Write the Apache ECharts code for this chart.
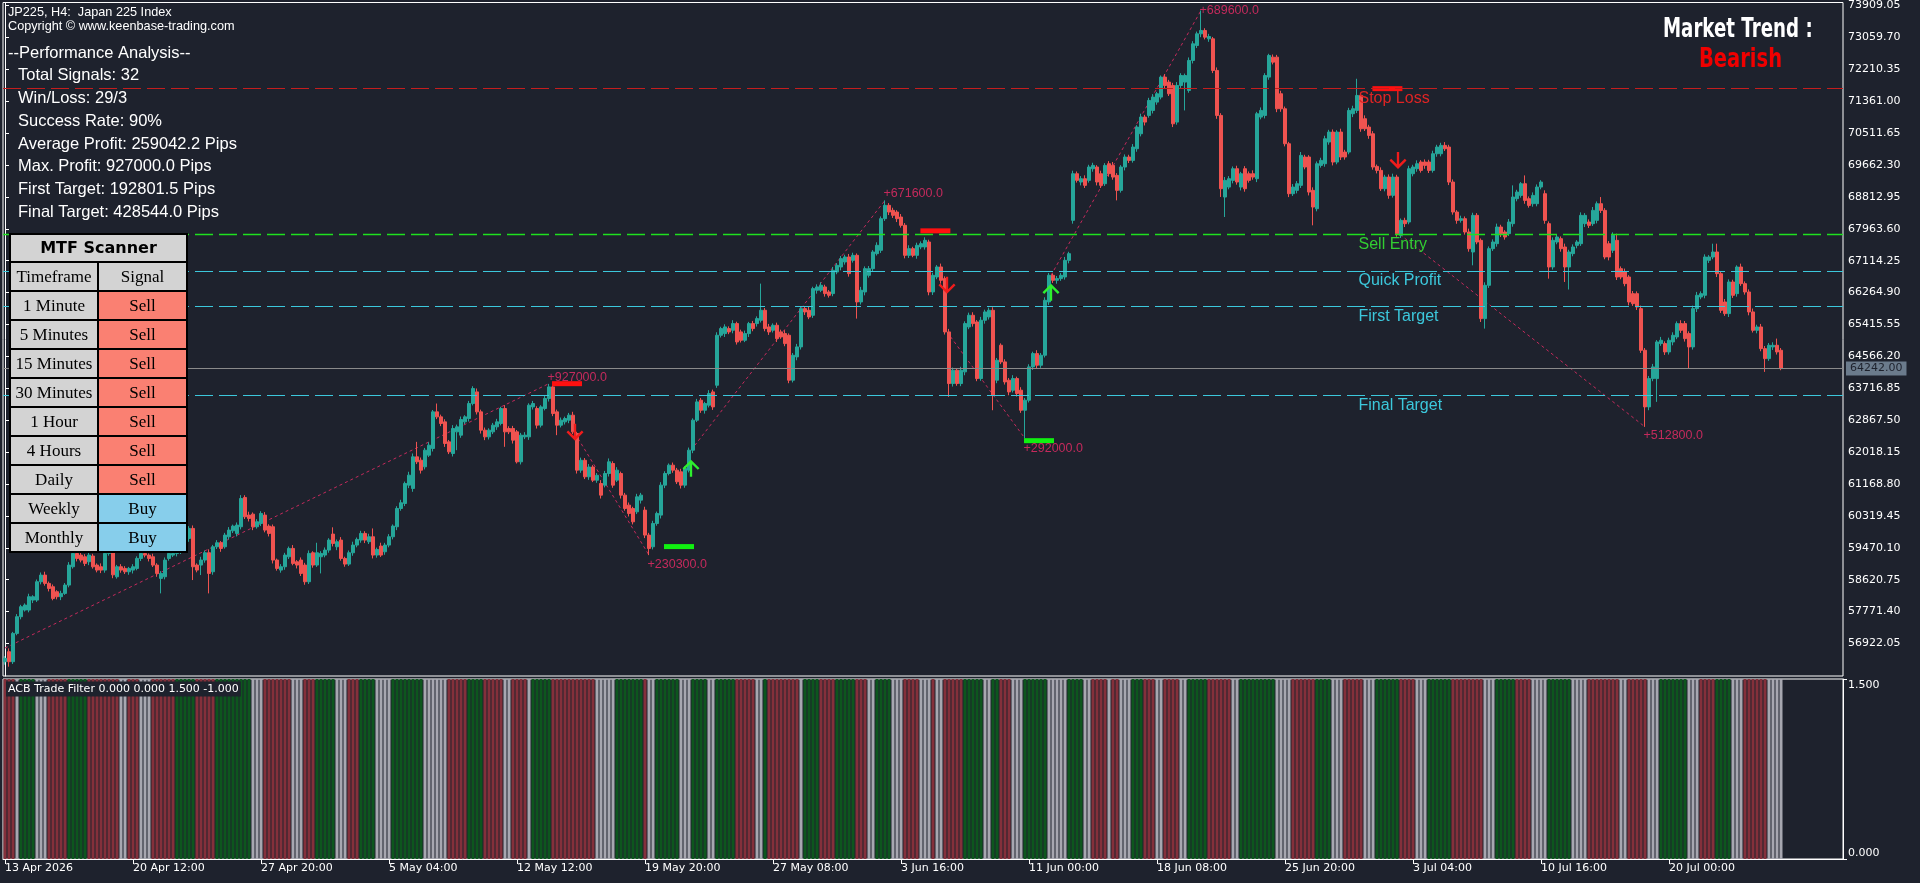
<!DOCTYPE html>
<html><head><meta charset="utf-8">
<script src="https://cdn.jsdelivr.net/npm/echarts@6/dist/echarts.min.js"></script>
<style>html,body{margin:0;padding:0;background:#1e222d;overflow:hidden}#c{width:1920px;height:883px}</style>
</head><body><div id="c"></div>
<script>
// ---------------- DATA ----------------
const opens = [
56437,56703,56437,57191,57635,57812,57812,58078,58078,58566,
58743,58522,58433,58300,58167,58256,58477,58965,59320,59275,
59231,59098,59250,59009,58965,58876,59320,59600,58699,58965,
58921,58832,58876,58921,59187,59320,59275,59231,59009,58655,
58699,59187,59275,59320,59364,59600,59719,59985,59010,59010,
59143,59338,58832,59497,59604,59497,59764,59923,59852,60030,
60810,60340,60366,60030,60118,60340,60047,60030,59143,58877,
58965,59231,59453,59098,59143,59010,58566,59338,59010,59231,
59276,59409,59835,59497,59675,59187,59036,59338,59542,59675,
59852,59631,59764,59276,59515,59364,59542,59764,60030,60517,
60650,61138,61050,61892,61803,61626,61936,62114,63089,62956,
62823,62291,61981,62557,62469,62823,62912,63311,63621,63089,
62602,62424,62557,62690,62779,63178,62646,62646,62557,61759,
62424,62424,63222,63178,62735,63178,63444,63754,63089,62735,
62823,62868,63001,62513,61537,61800,61360,61620,61270,61182,
61138,61448,61714,61271,61448,60872,60606,60517,60428,60739,
60473,59808,59497,60118,60340,61138,61448,61670,61537,61493,
61138,61537,62069,62867,63400,63133,63267,63621,63798,65129,
65173,65306,65262,65440,65218,64996,65173,65440,65440,65528,
65794,65351,65262,65395,65218,65173,65129,63932,64553,64819,
65838,65794,65661,66327,66327,66415,66282,66238,66814,66947,
67080,67213,67124,67257,66016,66282,66725,66903,67302,67391,
68233,68588,68455,68410,68277,68056,67257,67435,67257,67480,
67480,67612,66282,66681,66947,66637,65218,63843,64198,63843,
64154,65351,65661,65484,63976,65528,65617,65794,63932,64863,
64420,63932,63665,63976,63666,63133,63400,64287,64641,64331,
64597,66016,66725,66592,66637,66681,67124,68189,69430,69209,
69297,69253,69563,69608,69430,69164,69696,69652,69386,68987,
69608,69874,69785,70095,70494,70938,70982,71115,71337,71470,
72002,71869,71780,70805,71780,71869,71647,72446,72845,73155,
73244,73022,73022,72180,70982,68809,69075,69253,69563,69075,
69563,69430,69430,69297,70938,70982,72002,72534,72534,71559,
71159,70228,68898,68987,69120,69874,69874,68987,68499,69652,
69696,70273,70539,69741,70539,70007,70007,71027,71115,71514,
70894,70672,70494,69625,69519,69031,69341,68854,69341,67789,
68188,68144,69430,69563,69741,69741,69741,69519,69962,69962,
70184,70140,69208,68410,68188,68233,67878,67346,68321,67656,
65572,66459,67434,67568,68011,67878,67834,68100,68765,68853,
69164,68765,68632,68632,69075,68898,68100,66947,67612,67700,
67479,66947,67302,67523,67567,68100,68144,68100,68188,68632,
68454,67567,67390,67656,66902,66814,66680,66237,66237,65838,
64729,63222,63975,63975,64907,64907,64685,64951,65084,65439,
65439,65173,64818,65838,66148,66193,67124,67213,67346,66769,
66015,65705,66547,66237,66946,66503,66281,65750,65261,65350,
64773,64507,64818,64862,64729];
const closes = [
56526,56437,57191,57635,57901,57945,58167,58167,58566,58743,
58522,58388,58122,58167,58256,58477,59009,59320,59187,59142,
59054,59275,58965,58876,58876,59320,59600,58750,58965,58876,
58832,58921,58965,59187,59320,59275,59187,59009,58788,58788,
59142,59320,59320,59364,59600,59720,59985,58965,58877,59143,
59338,58788,59497,59604,59453,59808,59941,60047,60074,60783,
60296,60251,60030,60163,60384,59941,59852,59143,58921,58965,
59276,59453,59054,59010,58788,58566,59320,59010,59338,59320,
59409,59675,59586,59631,59187,59036,59338,59542,59693,59852,
59675,59764,59276,59426,59276,59542,59764,60047,60517,60668,
61183,61404,61892,61759,61537,62069,62202,63089,62956,62779,
62247,62025,62646,62690,62885,62956,63311,63710,63089,62602,
62424,62602,62735,62823,63178,62557,62557,62336,61759,62469,
62469,63267,63311,62735,63222,63444,63754,63045,62735,62868,
62912,63001,62557,61537,61800,61360,61620,61270,61400,60872,
61448,61759,61138,61537,60872,60517,60384,60162,60827,60872,
59808,59453,60118,60384,61138,61448,61670,61537,61227,61138,
61581,62069,62867,63355,63133,63311,63577,63222,65129,65306,
65351,65218,65440,64951,64996,65173,65440,65306,65572,65794,
65306,65218,65395,65040,65084,64907,63932,64597,64819,65838,
65750,65617,66371,66415,66460,66238,66193,66858,66991,67169,
67213,66770,67257,66016,66327,66903,66903,67346,67524,68233,
68588,68410,68322,68233,68056,67257,67435,67257,67524,67568,
67657,66282,66725,66947,66593,65218,63843,64198,63843,64198,
65440,65661,65439,63976,65528,65750,65794,63533,64464,64420,
63887,63621,63976,63577,63133,63400,64287,64641,64331,64597,
66060,66725,66592,66637,66725,67124,67302,69430,69253,69297,
69120,69608,69652,69209,69120,69652,69430,69341,68987,69608,
69874,69785,70140,70672,70938,70805,71381,71470,71559,72002,
71780,71559,70760,71780,72046,72046,72446,72889,73155,73244,
73066,73084,72180,70982,69031,69253,69297,69563,69209,69430,
69031,69253,69341,71027,71115,72046,72579,72401,71159,71159,
70228,68898,69075,69164,69918,69608,68942,68543,69696,69785,
70361,70539,69741,70539,69874,69874,71115,71160,71514,70627,
70627,70450,69608,69519,69031,69341,68854,69341,67833,68188,
68100,69563,69608,69696,69519,69652,69519,69962,70140,70184,
70095,69208,68410,68188,68233,67878,67434,68321,67612,65572,
66459,67434,67612,68011,67834,67745,68144,68809,68942,69164,
68720,68587,68853,69075,69208,68188,66947,67656,67745,67434,
66947,67346,67479,67612,68321,68321,68055,68454,68632,68454,
67213,67213,67789,66680,66680,66503,66015,65971,65882,64729,
63222,63975,64286,64951,64995,64685,64995,65128,65439,65261,
65040,64818,65838,66193,66237,67213,67213,67346,66769,65793,
65705,66547,66193,66946,66503,66281,65750,65261,65350,64773,
64507,64862,64862,64685,64242];
const wickUp = [
60,90,40,70,50,45,80,40,60,70, 90,50,60,40,70,55,80,180,60,90,
70,80,60,45,90,60,150,80,50,70, 60,40,70,55,90,60,45,80,50,60,
70,50,80,40,120,90,60,80,45,88, 60,90,50,70,45,60,80,40,70,89,
60,90,45,70,60,80,50,60,40,70, 60,50,90,45,70,60,80,40,266,60,
70,50,180,60,80,45,60,90,50,70, 60,80,221,50,90,60,70,45,60,80,
50,90,89,399,70,60,80,50,222,60, 70,50,90,60,80,45,70,62,90,60,
70,50,60,80,45,90,60,70,50,60, 80,50,70,60,45,90,80,89,60,70,
50,60,90,45,70,60,80,50,60,90, 70,90,60,80,50,60,70,45,80,60,
90,60,70,50,80,60,45,70,60,80, 60,70,50,80,60,45,90,60,80,50,
70,60,90,50,60,80,45,70,60,710, 60,80,50,70,60,90,50,60,80,70,
60,90,50,70,80,60,50,90,60,70, 60,80,70,50,90,60,70,50,80,60,
133,60,70,50,80,60,90,50,70,60, 80,60,70,50,90,60,80,70,50,90,
60,70,80,50,90,60,70,80,60,50, 70,60,90,50,80,60,70,50,90,60,
80,60,50,70,60,90,50,80,60,70, 90,60,70,50,80,60,70,90,60,50,
70,60,80,50,90,60,70,80,50,44, 80,60,70,90,60,50,80,70,60,532,
60,70,50,80,60,90,70,60,80,50, 70,60,90,50,80,60,44,70,60,80,
60,50,80,70,90,60,50,80,60,70, 80,60,70,50,90,60,70,80,444,60,
90,60,70,50,80,60,70,90,60,50, 70,80,60,90,50,70,60,80,60,70,
88,60,70,50,80,60,90,70,60,50, 80,60,70,90,60,50,80,311,60,44,
221,60,80,70,50,90,60,80,70,60, 90,60,70,50,80,60,70,90,60,177,
60,70,80,177,60,90,50,70,60,80, 60,70,80,50,90,60,70,80,60,90,
70,60,80,90,60,70,50,221,221,60, 80,70,60,45,89,60,70,90,60,80,
70,60,80,178,60];
const wickDn = [
80,133,60,50,70,40,60,80,50,70, 60,80,50,70,90,40,60,50,80,60,
70,90,50,60,80,70,60,90,50,70, 60,80,90,50,70,60,80,50,90,399,
70,60,50,80,60,70,90,354,60,266, 70,532,80,60,90,50,70,60,80,70,
60,80,90,50,70,60,80,90,60,70, 80,60,50,90,70,80,60,70,50,443,
60,70,80,90,60,70,50,80,60,70, 80,60,90,70,50,80,60,70,90,60,
70,80,89,60,90,70,50,80,60,70, 90,60,80,488,70,60,80,50,70,90,
88,70,60,80,50,399,60,90,44,70, 60,80,70,90,60,50,80,70,266,60,
70,80,60,90,70,60,80,50,70,90, 60,80,70,50,90,60,80,70,60,90,
80,178,70,60,90,80,50,70,60,90, 70,60,80,50,70,90,60,80,70,60,
90,60,80,70,60,50,90,70,80,60, 70,80,60,90,50,70,80,60,90,70,
80,60,70,90,50,80,60,70,60,90, 70,80,60,444,70,90,60,80,50,70,
60,80,70,90,60,80,70,50,90,60, 70,89,80,60,90,70,355,80,60,70,
90,60,80,70,60,90,70,400,80,60, 70,90,60,80,70,753,60,80,90,70,
60,80,70,90,60,70,80,89,60,90, 70,60,80,90,70,60,80,70,267,60,
90,70,60,80,70,90,60,80,70,60, 80,60,88,70,90,754,60,80,70,90,
60,80,70,90,220,532,60,80,70,90, 80,60,70,90,60,80,70,60,90,80,
70,90,60,80,70,60,90,487,70,60, 80,70,90,60,80,70,60,90,70,80,
60,90,70,80,60,70,90,60,80,70, 90,60,70,80,60,90,70,60,80,70,
60,80,70,90,60,70,80,355,60,90, 266,70,60,80,90,70,60,80,70,60,
90,60,80,70,60,90,311,70,60,80, 400,600,70,80,60,90,70,60,80,70,
60,90,70,80,60,70,90,60,80,70, 533,89,70,620,60,80,70,90,60,70,
80,576,70,90,60,80,70,60,90,70, 60,90,70,80,60,70,90,60,80,70,
354,60,80,70,44];
// ACB Trade Filter state per bar as runs: G = buy, R = sell, N = neutral
const filterRuns = [
['R',3],['N',1],['G',4],['N',3],['R',5],['G',5],['R',8],['N',2],['R',3],['N',3],
['R',6],['G',5],['R',5],['G',9],['N',3],['R',7],['N',3],['R',3],['G',5],['N',3],
['R',3],['G',4],['N',4],['G',8],['N',6],['R',5],['G',4],['R',5],['N',2],['R',4],
['N',1],['G',5],['R',11],['N',5],['G',7],
['R',1],['N',2],['G',6],['N',3],['G',4],['N',2],['G',5],['R',5],['N',2],['G',1],
['R',8],['N',1],['G',4],['R',4],['G',5],['R',3],['N',2],['G',4],['N',3],['R',4],
['N',3],['R',1],['N',2],['R',5],['G',5],['N',2],['G',2],['R',3],['N',3],['G',6],
['N',5],['G',4],['N',2],['R',4],['N',1],['R',2],['N',3],['G',3],['R',3],['N',2],
['R',4],['N',2],['G',5],['R',6],['N',2],['G',9],
['N',4],['R',6],['G',4],['N',3],['R',5],['N',3],['G',6],['R',4],['N',3],['G',6],
['R',8],['N',3],['G',5],['R',4],['N',4],['G',6],['N',4],['R',8],['N',2],['R',5],
['N',3],['G',7],['N',3],['R',4],['G',4],['N',3],['R',6],['N',4]];
const tickBars = [0,32,64,96,128,160,192,224,256,288,320,352,384,416];
const tickLabels = ['13 Apr 2026','20 Apr 12:00','27 Apr 20:00','5 May 04:00','12 May 12:00','19 May 20:00','27 May 08:00','3 Jun 16:00','11 Jun 00:00','18 Jun 08:00','25 Jun 20:00','3 Jul 04:00','10 Jul 16:00','20 Jul 00:00'];
const priceTicks = [73909.05,73059.70,72210.35,71361.00,70511.65,69662.30,68812.95,67963.60,67114.25,66264.90,65415.55,64566.20,63716.85,62867.50,62018.15,61168.80,60319.45,59470.10,58620.75,57771.40,56922.05];
const filterTicks = [0, 1.5];
const lastPrice = 64242.00;
const levelNames = ['Stop Loss','Sell Entry','Quick Profit','First Target','Final Target'];
const levelPrices = [71695, 67810, 66838, 65893, 63525];
const levelLabelBar = 338.25;
const tradeStarts = [[0,56801],[142.5,62513],[171.5,62069],[235.5,65218],[261.5,66725],[348.75,67810]];
const tradeEnds = [[136,63843],[161,59275],[220,68721],[255,62380],[299,73776],[410,62689]];
const pipsTexts = ['+927000.0','+230300.0','+671600.0','+292000.0','+689600.0','+512800.0'];
const buySignals = [[171.5,61591],[261.5,66273]];
const sellSignals = [[142.5,62548],[235.5,66459],[348.25,69785]];
const exitMarks = [[140.5,63840,'sell'],[168.5,59502,'buy'],[232.6,67909,'sell'],[258.5,62322,'buy'],[345.6,71695,'sell']];
const headerLines = ['JP225, H4:  Japan 225 Index','Copyright \u00a9 www.keenbase-trading.com'];
const perfTitle = '--Performance Analysis--';
const perfLines = ['Total Signals: 32','Win/Loss: 29/3','Success Rate: 90%','Average Profit: 259042.2 Pips','Max. Profit: 927000.0 Pips','First Target: 192801.5 Pips','Final Target: 428544.0 Pips'];
const mtfTimeframes = ['1 Minute','5 Minutes','15 Minutes','30 Minutes','1 Hour','4 Hours','Daily','Weekly','Monthly'];
const mtfSignals = ['Sell','Sell','Sell','Sell','Sell','Sell','Sell','Buy','Buy'];
const trendTitle = 'Market Trend :';
const trendValue = 'Bearish';
const filterTitle = 'ACB Trade Filter 0.000 0.000 1.500 -1.000';

// ---------------- STYLE ----------------
const BG = '#1e222d', UP = '#26a69a', DN = '#ef5350';
const levelLine = ['#c41e1e','#1fe01f','#3cc8dc','#3cc8dc','#3cc8dc'];
const levelWidth = [1, 1.4, 1, 1, 1];
const levelText = ['#e02424','#32cd32','#3cc8dc','#3cc8dc','#3cc8dc'];
const filterColor = {G:'#0d561e', R:'#84303b', N:'#a7a7b0'};
const pipsDy = [-6, 9, -7, 10, 0, 9];
const AXF = '"DejaVu Sans", sans-serif';
const SANS = '"Liberation Sans", Arial, sans-serif';
const chartShift = 15;

const N = opens.length;
if (closes.length!==N || wickUp.length!==N || wickDn.length!==N) throw new Error('len '+N+' '+closes.length+' '+wickUp.length+' '+wickDn.length);
const filterCodes = [];
filterRuns.forEach(([c,n]) => { for (let k=0;k<n;k++) filterCodes.push(c); });
if (filterCodes.length!==N) throw new Error('filter len '+filterCodes.length);

const slots = N + chartShift;
const categories = Array.from({length:slots}, (_,i)=>String(i));
const candles = opens.map((o,i)=>{const c=closes[i];return [o,c,Math.min(o,c)-wickDn[i],Math.max(o,c)+wickUp[i]];});
const tickMap = {}; tickBars.forEach((b,i)=>tickMap[b]=tickLabels[i]);

const arrowUp = 'path://M8,0 L16,8 L14.4,9.6 L9.1,4.3 L9.1,16 L6.9,16 L6.9,4.3 L1.6,9.6 L0,8 Z';
const arrowDn = 'path://M8,16 L16,8 L14.4,6.4 L9.1,11.7 L9.1,0 L6.9,0 L6.9,11.7 L1.6,6.4 L0,8 Z';

// ---------------- GRAPHIC OVERLAYS (table / texts) ----------------
const G = [];
const txt = (x,y,text,font,fill,align,extra,el) => Object.assign({type:'text', x, y, z:100, style:Object.assign({text, font, fill, align:align||'left', verticalAlign:'middle', textAlign:align||'left', textVerticalAlign:'middle'}, extra||{})}, el||{});
G.push(txt(8,12,headerLines[0],'12.7px '+SANS,'#ffffff'));
G.push(txt(8,26,headerLines[1],'12.7px '+SANS,'#ffffff'));
G.push(txt(8,53,perfTitle,'16.5px '+SANS,'#ffffff'));
perfLines.forEach((t,i)=>G.push(txt(18,75.3+i*22.9,t,'16.5px '+SANS,'#ffffff')));
// table
const T = {x0:10, xm:98, x1:187, y0:234, hh:28, rh:29};
const rect = (x,y,w,h,fill) => ({type:'rect', z:100, shape:{x,y,width:w,height:h}, style:{fill, stroke:'#000000', lineWidth:2}});
G.push(rect(T.x0,T.y0,T.x1-T.x0,T.hh,'#d3d3d3'));
G.push(txt((T.x0+T.x1)/2,T.y0+T.hh/2+1,'MTF Scanner','bold 16px "DejaVu Sans", sans-serif','#000000','center'));
const rows = [['Timeframe','Signal']].concat(mtfTimeframes.map((t,i)=>[t,mtfSignals[i]]));
const SERIF = '17px "Liberation Serif", "Times New Roman", serif';
rows.forEach((r,i)=>{
  const y = T.y0 + T.hh + i*T.rh;
  const sigFill = i===0 ? '#d3d3d3' : (r[1]==='Sell' ? '#fa8072' : '#87ceeb');
  G.push(rect(T.x0,y,T.xm-T.x0,T.rh,'#d3d3d3'));
  G.push(rect(T.xm,y,T.x1-T.xm,T.rh,sigFill));
  G.push(txt((T.x0+T.xm)/2,y+T.rh/2+1,r[0],SERIF,'#000000','center'));
  G.push(txt((T.xm+T.x1)/2,y+T.rh/2+1,r[1],SERIF,'#000000','center'));
});
const BOLDF = 'bold 26px "DejaVu Sans", sans-serif';
G.push(txt(1663,30,trendTitle,BOLDF,'#ffffff','left',null,{scaleX:0.70}));
G.push(txt(1699,60,trendValue,BOLDF,'#f00000','left',null,{scaleX:0.75}));
G.push(txt(6,689,filterTitle,'11px '+AXF,'#ffffff','left',{backgroundColor:BG, padding:[2,2,2,2]}));

// ---------------- SERIES ----------------
const levelSeries = levelPrices.map((p,i)=>({
  type:'line', xAxisIndex:1, yAxisIndex:0, data:[], z:3, silent:true, symbol:'none',
  markLine:{silent:true, symbol:['none','none'], animation:false, label:{show:false},
    lineStyle:{color:levelLine[i], width:levelWidth[i], type:[18,6], opacity:1},
    data:[{yAxis:p}]}
}));

const option = {
  backgroundColor: BG,
  animation: false,
  grid: [
    {left:3, right:77, top:2, height:674, show:true, borderColor:'#ffffff', borderWidth:1, backgroundColor:'transparent'},
    {left:3, right:77, top:679, height:180, show:true, borderColor:'#ffffff', borderWidth:1, backgroundColor:'transparent'}
  ],
  xAxis: [
    {type:'category', gridIndex:0, data:categories, boundaryGap:true, axisLine:{show:false}, axisTick:{show:false}, axisLabel:{show:false}, splitLine:{show:false}},
    {type:'value', gridIndex:0, min:-0.5, max:slots-0.5, show:false},
    {type:'category', gridIndex:1, data:categories, boundaryGap:true, position:'bottom',
      axisLine:{show:true, lineStyle:{color:'#ffffff'}},
      axisTick:{show:true, alignWithLabel:true, length:5, interval:(i)=>tickMap[i]!==undefined, lineStyle:{color:'#ffffff'}},
      axisLabel:{show:true, interval:(i)=>tickMap[i]!==undefined, formatter:(v,i)=>tickMap[Number(v)]||'', align:'left', margin:4, color:'#ffffff', fontFamily:'DejaVu Sans', fontSize:11},
      splitLine:{show:false}}
  ],
  yAxis: [
    {type:'value', gridIndex:0, position:'right', min:56056.4, max:73988.9, scale:true,
      axisLine:{show:true, lineStyle:{color:'#ffffff'}},
      axisTick:{show:true, length:4, customValues:priceTicks, lineStyle:{color:'#ffffff'}},
      axisLabel:{show:true, customValues:priceTicks, formatter:(v)=>Number(v).toFixed(2), margin:5, color:'#ffffff', fontFamily:'DejaVu Sans', fontSize:11},
      splitLine:{show:false}},
    {type:'value', gridIndex:1, position:'right', min:0, max:1.5,
      axisLine:{show:true, lineStyle:{color:'#ffffff'}},
      axisTick:{show:true, length:4, customValues:filterTicks, lineStyle:{color:'#ffffff'}},
      axisLabel:{show:true, customValues:filterTicks, margin:5, color:'#ffffff', fontFamily:'DejaVu Sans', fontSize:11,
        formatter:(v)=> Number(v)===0 ? '{b|0.000}' : '{t|'+Number(v).toFixed(3)+'}',
        rich:{t:{padding:[12,0,0,0], color:'#ffffff', fontFamily:'DejaVu Sans', fontSize:11}, b:{padding:[0,0,12,0], color:'#ffffff', fontFamily:'DejaVu Sans', fontSize:11}}},
      splitLine:{show:false}}
  ],
  graphic: {elements: G},
  series: [
    {type:'lines', coordinateSystem:'cartesian2d', xAxisIndex:1, yAxisIndex:0, z:1, silent:true,
      lineStyle:{color:'#c42a5c', width:1, type:[3,3], opacity:1},
      data: tradeStarts.map((s,i)=>({coords:[s, tradeEnds[i]]}))},
    {type:'candlestick', xAxisIndex:0, yAxisIndex:0, z:2, barWidth:3, data:candles,
      itemStyle:{color:UP, color0:DN, borderColor:UP, borderColor0:DN, borderWidth:1},
      markLine:{silent:true, symbol:['none','none'], animation:false,
        data:[{yAxis:lastPrice, lineStyle:{color:'#8a8a8a', width:1, type:'solid', opacity:1},
            label:{show:true, position:'end', distance:3, formatter:lastPrice.toFixed(2), color:'#1e222d', backgroundColor:'#6b7b8c', padding:[2,4,1,4], fontFamily:'DejaVu Sans', fontSize:11}}]}},
    ...levelSeries,
    {type:'scatter', xAxisIndex:1, yAxisIndex:0, z:4, symbol:'rect', symbolSize:[30,5], silent:true,
      data: exitMarks.map(m=>({value:[m[0],m[1]], itemStyle:{opacity:1, color: m[2]==='sell' ? '#ff1010' : '#10f010'}}))},
    {type:'scatter', xAxisIndex:1, yAxisIndex:0, z:5, symbol:arrowUp, symbolSize:[17,17], silent:true, itemStyle:{color:'#2ef02e', opacity:1}, data:buySignals},
    {type:'scatter', xAxisIndex:1, yAxisIndex:0, z:5, symbol:arrowDn, symbolSize:[17,17], silent:true, itemStyle:{color:'#f01c1c', opacity:1}, data:sellSignals},
    {type:'scatter', xAxisIndex:1, yAxisIndex:0, z:5, symbolSize:1, silent:true, itemStyle:{color:'rgba(0,0,0,0)', opacity:1},
      data: tradeEnds.map((e,i)=>({value:e, label:{show:true, formatter:pipsTexts[i], position:'right', distance:0, offset:[-2,pipsDy[i]], color:'#c42a5c', fontFamily:SANS, fontSize:12.5}}))},
    {type:'scatter', xAxisIndex:1, yAxisIndex:0, z:5, symbolSize:1, silent:true, itemStyle:{color:'rgba(0,0,0,0)', opacity:1},
      data: levelPrices.map((p,i)=>({value:[levelLabelBar,p], label:{show:true, formatter:levelNames[i], position:'right', distance:0, offset:[0,10], color:levelText[i], fontFamily:SANS, fontSize:16}}))},
    {type:'bar', xAxisIndex:2, yAxisIndex:1, barWidth:3, silent:true,
      data: filterCodes.map(c=>({value:1.5, itemStyle:{color:filterColor[c]}}))}
  ]
};
const chart = echarts.init(document.getElementById('c'), null, {renderer:'canvas', width:1920, height:883});
chart.setOption(option);
</script></body></html>
